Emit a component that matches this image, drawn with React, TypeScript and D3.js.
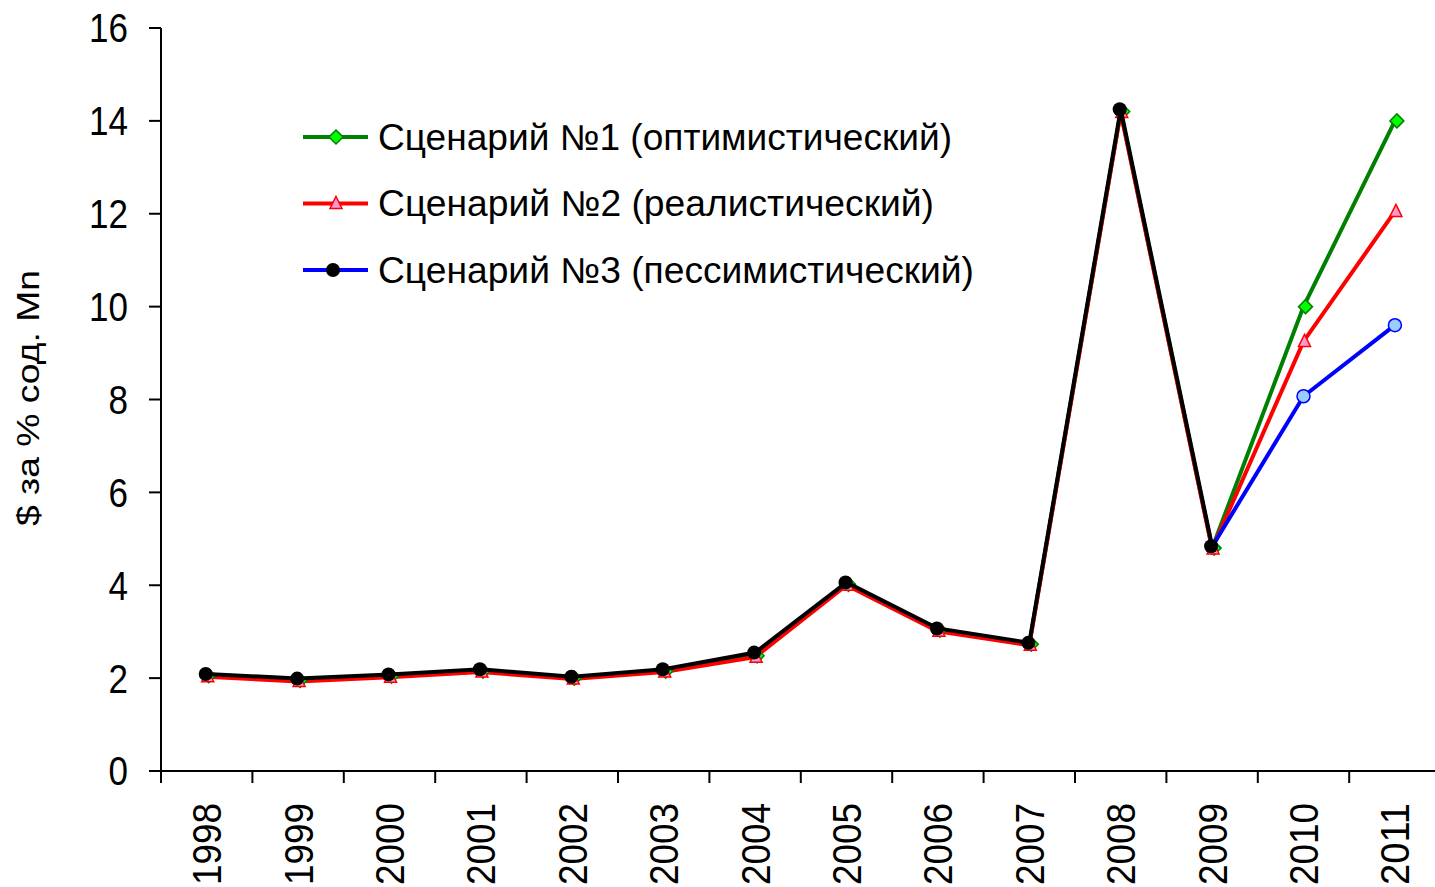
import React from "react";
import * as d3 from "d3";

const years = ["1998","1999","2000","2001","2002","2003","2004","2005","2006","2007","2008","2009","2010","2011"];
const yTicks = [0, 2, 4, 6, 8, 10, 12, 14, 16];
// Scenario 1 (optimistic)
const s1 = [2.05, 1.95, 2.04, 2.15, 2.0, 2.15, 2.48, 4.02, 3.03, 2.73, 14.2, 4.8, 10.0, 14.0];
// Scenario 2 (realistic)
const s2 = [2.03, 1.93, 2.02, 2.13, 1.98, 2.13, 2.45, 4.0, 3.01, 2.71, 14.18, 4.78, 9.25, 12.05];
// Scenario 3 (pessimistic) — forecast part 2009..2011
const s3 = [null, null, null, null, null, null, null, null, null, null, null, 4.83, 8.07, 9.6];
// Actual (historical) 1998..2009
const fact = [2.09, 1.99, 2.08, 2.19, 2.03, 2.19, 2.55, 4.06, 3.07, 2.76, 14.25, 4.84, null, null];
const legendLabels = ["Сценарий №1 (оптимистический)", "Сценарий №2 (реалистический)", "Сценарий №3 (пессимистический)"];
const yTitle = "$ за % сод. Mn";

const W = 1435, H = 887;
const x0 = 161, x1 = 161 + 91.4 * 14;
const yTop = 28, yBot = 771;
const font = "'Liberation Sans', Arial, sans-serif";

export default function App() {
  const x = d3.scaleBand<string>().domain(years).range([x0, x1]);
  const cx = (i: number) => (x(years[i]) as number) + x.bandwidth() / 2;
  const y = d3.scaleLinear().domain([0, 16]).range([yBot, yTop]);

  const mk = (arr: (number | null)[]) => {
    const pts: [number, number][] = [];
    arr.forEach((v, i) => { if (v != null) pts.push([cx(i), y(v)]); });
    return d3.line()(pts) || "";
  };

  const diamond = (px: number, py: number, k: string) => (
    <path key={k} d={`M${px},${py - 7}L${px + 7},${py}L${px},${py + 7}L${px - 7},${py}Z`} fill="#00ff00" stroke="#008000" strokeWidth={1.5} />
  );
  const triangle = (px: number, py: number, k: string) => (
    <path key={k} d={`M${px},${py - 7}L${px + 6},${py + 5}L${px - 6},${py + 5}Z`} fill="#ff99cc" stroke="#ff0000" strokeWidth={1.5} />
  );

  return (
    <svg width={W} height={H} style={{ position: "absolute", left: 0, top: 0, background: "#fff" }} fontFamily={font}>
      {/* axes */}
      <line x1={x0} y1={yTop} x2={x0} y2={yBot + 12} stroke="#000" strokeWidth={2} />
      <line x1={x0 - 12} y1={yBot} x2={W} y2={yBot} stroke="#000" strokeWidth={2} />
      {yTicks.map((t) => (
        <g key={t}>
          <line x1={x0 - 12} x2={x0} y1={y(t)} y2={y(t)} stroke="#000" strokeWidth={2} />
          <text x={128} y={y(t)} dy="0.36em" textAnchor="end" fontSize={40}
            textLength={String(t).length * 19.5} lengthAdjust="spacingAndGlyphs">{t}</text>
        </g>
      ))}
      {years.map((yr, i) => (
        <g key={yr}>
          <line x1={(x(yr) as number)} x2={(x(yr) as number)} y1={yBot} y2={yBot + 12} stroke="#000" strokeWidth={2} />
          <text transform={`translate(${cx(i)},${803}) rotate(-90)`} dy="0.36em" textAnchor="end" fontSize={40}
            textLength={82} lengthAdjust="spacingAndGlyphs">{yr}</text>
        </g>
      ))}
      <text transform={`translate(28,398) rotate(-90)`} dy="0.35em" textAnchor="middle" fontSize={32} textLength={256} lengthAdjust="spacingAndGlyphs">{yTitle}</text>

      {/* series lines */}
      <path d={mk(s1)} fill="none" stroke="#008000" strokeWidth={4} />
      <path d={mk(s2)} fill="none" stroke="#ff0000" strokeWidth={4} />
      <path d={mk(s3)} fill="none" stroke="#0000ff" strokeWidth={4} />
      {s1.map((v, i) => diamond(cx(i) + 2, y(v), "d" + i))}
      {s2.map((v, i) => triangle(cx(i) + 1, y(v), "t" + i))}
      <path d={mk(fact)} fill="none" stroke="#000" strokeWidth={4} />
      {fact.map((v, i) => v != null ? <circle key={"f" + i} cx={cx(i) - 1} cy={y(v)} r={7} fill="#000" /> : null)}
      {s3.map((v, i) => v != null && i > 11 ? <circle key={"c" + i} cx={cx(i)} cy={y(v)} r={6.5} fill="#99ccff" stroke="#0000ff" strokeWidth={1.5} /> : null)}

      {/* legend */}
      {legendLabels.map((lab, i) => {
        const ly = 137 + i * 66.5;
        const col = ["#008000", "#ff0000", "#0000ff"][i];
        return (
          <g key={lab}>
            <line x1={303} x2={368} y1={ly} y2={ly} stroke={col} strokeWidth={4} />
            {i === 0 ? diamond(336, ly, "ld") : i === 1 ? triangle(336, ly, "lt") : <circle cx={333} cy={ly} r={7} fill="#000" />}
            <text x={378} y={ly} dy="0.35em" fontSize={36} textLength={[574, 556, 596][i]} lengthAdjust="spacingAndGlyphs">{lab}</text>
          </g>
        );
      })}
    </svg>
  );
}
